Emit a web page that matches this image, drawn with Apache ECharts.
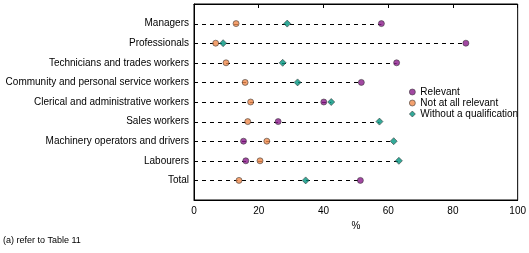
<!DOCTYPE html>
<html><head><meta charset="utf-8">
<script src="https://cdn.jsdelivr.net/npm/echarts@6/dist/echarts.min.js"></script>
<style>html,body{margin:0;padding:0;background:#fff}#c{width:529px;height:253px}</style>
</head><body><div id="c"></div>
<script>
const categories = ['Managers','Professionals','Technicians and trades workers','Community and personal service workers','Clerical and administrative workers','Sales workers','Machinery operators and drivers','Labourers','Total'];
const relevant = [57.9, 84.0, 62.6, 51.7, 40.1, 26.0, 15.3, 16.0, 51.4];
const notRelevant = [13.0, 6.7, 9.9, 15.8, 17.5, 16.6, 22.5, 20.4, 13.9];
const withoutQual = [28.8, 9.0, 27.4, 32.0, 42.4, 57.3, 61.7, 63.3, 34.5];
const xTicks = [0, 20, 40, 60, 80, 100];
const footnote = '(a) refer to Table 11';

const yCats = [''].concat(categories, ['']);
const FONT = 'Liberation Sans';
const chart = echarts.init(document.getElementById('c'), null, {renderer:'canvas'});
const toPts = arr => arr.map((v, i) => [v, i + 1]);
const maxRow = categories.map((c, i) => [Math.max(relevant[i], notRelevant[i], withoutQual[i]), i + 1]);
const mk = (name, arr, color, symbol, size) => ({
  name, type:'scatter', data: toPts(arr), symbol, symbolSize: size, z: 3,
  itemStyle:{color, borderColor:'#333', borderWidth:0.7}
});
chart.setOption({
  animation:false,
  grid:{left:194, right:11, top:4, bottom:53, show:true, borderColor:'#000', borderWidth:1},
  xAxis:[{
    type:'value', min:xTicks[0], max:xTicks[xTicks.length-1], interval:20,
    name:'%', nameLocation:'middle', nameGap:18,
    nameTextStyle:{fontFamily:FONT, fontSize:10, color:'#000'},
    axisLine:{show:true, lineStyle:{color:'#000'}}, axisTick:{show:false},
    splitLine:{show:false},
    axisLabel:{fontFamily:FONT, fontSize:10, color:'#000', margin:6}
  },{
    type:'value', position:'top', min:xTicks[0], max:xTicks[xTicks.length-1], interval:20,
    axisLine:{show:true, lineStyle:{color:'#000'}},
    axisTick:{show:true, inside:true, length:4, lineStyle:{color:'#000'}},
    axisLabel:{show:false}, splitLine:{show:false}
  }],
  yAxis:{
    type:'category', data:yCats, inverse:true, boundaryGap:false,
    axisLine:{show:true, lineStyle:{color:'#000'}}, axisTick:{show:false},
    axisLabel:{fontFamily:FONT, fontSize:10, color:'#000', margin:5, interval:0},
    splitLine:{show:false}
  },
  legend:{
    orient:'vertical', left:404, top:82, itemWidth:6, itemHeight:6, itemGap:1,
    textStyle:{fontFamily:FONT, fontSize:10, color:'#000', lineHeight:10},
    itemStyle:{borderWidth:0.7, borderColor:'#333'},
    data:[{name:'Relevant', icon:'circle'},{name:'Not at all relevant', icon:'circle'},{name:'Without a qualification', icon:'diamond'}]
  },
  graphic:[{type:'text', left:3, top:236, style:{text:footnote, font:'9px "Liberation Sans"', fill:'#000'}}],
  series:[
    {type:'custom', name:'lines', data:maxRow, z:1, silent:true,
     renderItem:(params, api) => {
       const p0 = api.coord([0, api.value(1)]);
       const p1 = api.coord([api.value(0), api.value(1)]);
       return {type:'line', shape:{x1:p0[0], y1:Math.round(p0[1])+0.5, x2:p1[0], y2:Math.round(p1[1])+0.5},
               style:{stroke:'#000', lineWidth:1, lineDash:[4,4]}};
     }},
    mk('Relevant', relevant, '#8b1a8b', 'circle', 6),
    mk('Not at all relevant', notRelevant, '#f08a4b', 'circle', 6),
    mk('Without a qualification', withoutQual, '#009580', 'diamond', 7)
  ]
});
</script></body></html>
